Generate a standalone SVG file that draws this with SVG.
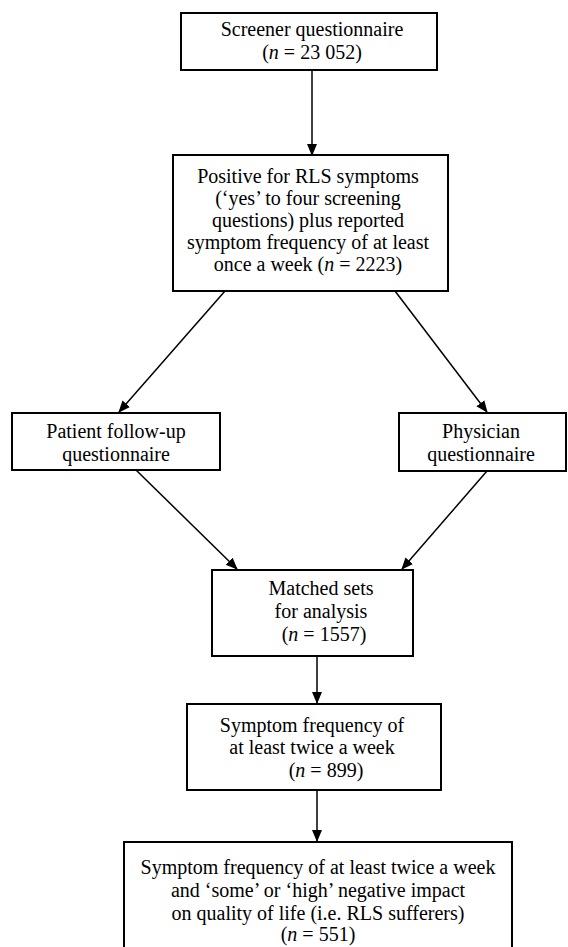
<svg xmlns="http://www.w3.org/2000/svg" width="568" height="947" viewBox="0 0 568 947">
<style>
.box{fill:#fff;stroke:#000;stroke-width:2}
.t{font-family:'Liberation Serif',serif;font-size:20px;fill:#000;text-anchor:middle}
.i{font-style:italic}
.c{stroke:#000;stroke-width:1.5;fill:none;marker-end:url(#ah)}
</style>
<defs>
<marker id="ah" markerUnits="userSpaceOnUse" markerWidth="12" markerHeight="12" viewBox="0 0 12 12" refX="11" refY="6" orient="auto">
<path d="M0,1 L12,6 L0,11 Z" fill="#000"/>
</marker>
</defs>
<rect width="568" height="947" fill="#fff"/>
<g id="connectors">
<line class="c" x1="312" y1="70" x2="312" y2="155"/>
<line class="c" x1="225" y1="291" x2="119" y2="412"/>
<line class="c" x1="395" y1="291" x2="487" y2="412"/>
<line class="c" x1="136" y1="470" x2="237" y2="569"/>
<line class="c" x1="487" y1="471" x2="402" y2="569"/>
<line class="c" x1="317" y1="656" x2="317" y2="703"/>
<line class="c" x1="317" y1="790" x2="317" y2="841"/>
</g>
<g font-family="Liberation Serif, serif">
<g id="n1">
<rect class="box" x="181" y="13" width="256" height="57"/>
<text class="t" x="312" y="36">Screener questionnaire</text>
<text class="t" x="312" y="59">(<tspan class="i">n</tspan> = 23 052)</text>
</g>
<g id="n2">
<rect class="box" x="173" y="155" width="275" height="136"/>
<text class="t" x="308" y="183">Positive for RLS symptoms</text>
<text class="t" x="308" y="205">(‘yes’ to four screening</text>
<text class="t" x="308" y="227">questions) plus reported</text>
<text class="t" x="308" y="249">symptom frequency of at least</text>
<text class="t" x="308" y="271">once a week (<tspan class="i">n</tspan> = 2223)</text>
</g>
<g id="n3">
<rect class="box" x="12" y="413" width="208" height="57"/>
<text class="t" x="116" y="438">Patient follow-up</text>
<text class="t" x="116" y="461">questionnaire</text>
</g>
<g id="n4">
<rect class="box" x="399" y="413" width="167" height="58"/>
<text class="t" x="481" y="438">Physician</text>
<text class="t" x="481" y="461">questionnaire</text>
</g>
<g id="n5">
<rect class="box" x="212" y="570" width="201" height="86"/>
<text class="t" x="321" y="595">Matched sets</text>
<text class="t" x="321" y="618">for analysis</text>
<text class="t" x="324" y="641">(<tspan class="i">n</tspan> = 1557)</text>
</g>
<g id="n6">
<rect class="box" x="187" y="704" width="254" height="86"/>
<text class="t" x="312" y="732">Symptom frequency of</text>
<text class="t" x="312" y="754">at least twice a week</text>
<text class="t" x="326" y="777">(<tspan class="i">n</tspan> = 899)</text>
</g>
<g id="n7">
<rect class="box" x="124" y="842" width="388" height="115"/>
<text class="t" x="318" y="874">Symptom frequency of at least twice a week</text>
<text class="t" x="318" y="897">and ‘some’ or ‘high’ negative impact</text>
<text class="t" x="318" y="920">on quality of life (i.e. RLS sufferers)</text>
<text class="t" x="318" y="941">(<tspan class="i">n</tspan> = 551)</text>
</g>
</g>
</svg>
